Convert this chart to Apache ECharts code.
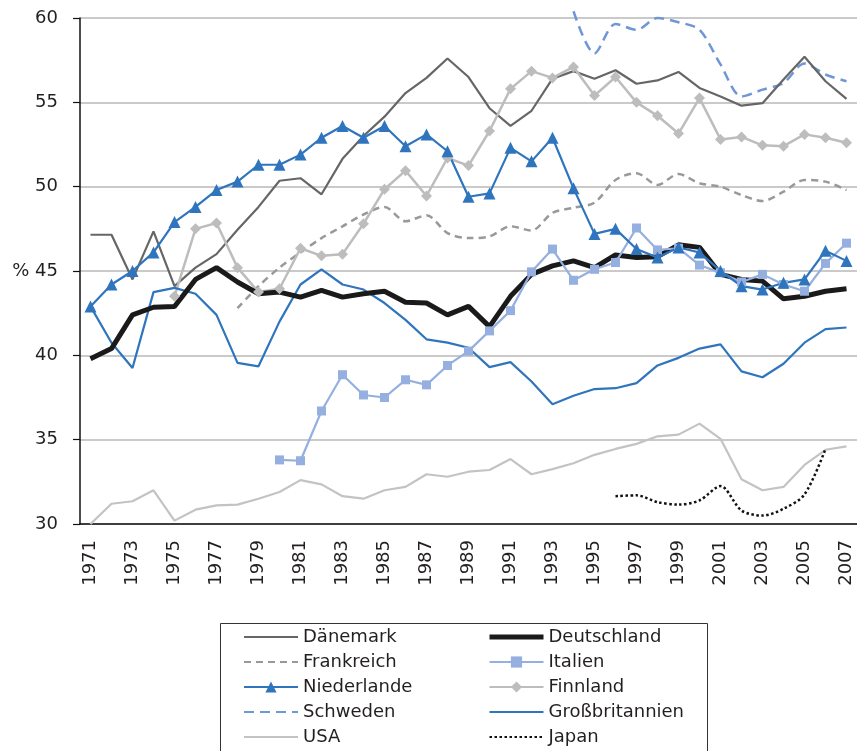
<!DOCTYPE html>
<html>
<head>
<meta charset="utf-8">
<script src="https://cdn.jsdelivr.net/npm/echarts@6/dist/echarts.min.js"></script>
<style>html,body{margin:0;padding:0;background:#fff}#c{width:857px;height:751px}</style>
</head>
<body>
<div id="c"></div>
<script>
const years = [];
for (let y = 1971; y <= 2007; y++) years.push(String(y));
const yTicks = [30, 35, 40, 45, 50, 55, 60];
const N = null;

const daenemark = [47.15, 47.15, 44.5, 47.35, 44.1, 45.2, 46.0, 47.45, 48.8, 50.35, 50.5, 49.55, 51.65, 53.0, 54.15, 55.55, 56.45, 57.6, 56.5, 54.65, 53.6, 54.5, 56.4, 56.85, 56.4, 56.9, 56.1, 56.3, 56.8, 55.85, 55.35, 54.8, 54.95, 56.35, 57.7, 56.25, 55.2];
const deutschland = [39.8, 40.4, 42.4, 42.85, 42.9, 44.5, 45.2, 44.35, 43.65, 43.75, 43.45, 43.85, 43.45, 43.65, 43.8, 43.15, 43.1, 42.4, 42.9, 41.7, 43.5, 44.8, 45.3, 45.6, 45.2, 45.95, 45.8, 45.85, 46.55, 46.4, 44.8, 44.5, 44.4, 43.35, 43.5, 43.8, 43.95];
const frankreich = [N, N, N, N, N, N, N, 42.8, 44.1, 45.2, 46.1, 46.95, 47.65, 48.35, 48.8, 47.95, 48.3, 47.25, 46.95, 47.05, 47.65, 47.4, 48.45, 48.75, 49.05, 50.4, 50.8, 50.1, 50.75, 50.2, 50.0, 49.5, 49.15, 49.7, 50.4, 50.3, 49.8];
const italien = [N, N, N, N, N, N, N, N, N, 33.8, 33.75, 36.7, 38.85, 37.65, 37.5, 38.55, 38.25, 39.4, 40.25, 41.45, 42.65, 44.95, 46.3, 44.45, 45.1, 45.5, 47.55, 46.25, 46.35, 45.35, 44.9, 44.35, 44.8, 44.2, 43.8, 45.45, 46.65];
const niederlande = [42.9, 44.2, 45.0, 46.1, 47.9, 48.8, 49.8, 50.3, 51.3, 51.3, 51.9, 52.9, 53.6, 52.9, 53.6, 52.4, 53.1, 52.1, 49.4, 49.6, 52.3, 51.5, 52.9, 49.9, 47.2, 47.5, 46.3, 45.8, 46.4, 46.1, 45.0, 44.1, 43.9, 44.3, 44.5, 46.2, 45.6];
const finnland = [N, N, N, N, 43.5, 47.5, 47.85, 45.2, 43.75, 43.95, 46.35, 45.9, 46.0, 47.8, 49.85, 50.95, 49.45, 51.7, 51.25, 53.3, 55.8, 56.85, 56.45, 57.1, 55.4, 56.5, 55.0, 54.2, 53.15, 55.25, 52.8, 52.95, 52.45, 52.4, 53.1, 52.9, 52.6];
const schweden = [N, N, N, N, N, N, N, N, N, N, N, N, N, N, N, N, N, N, N, N, N, N, N, 60.4, 57.9, 59.65, 59.3, 60.0, 59.75, 59.3, 57.25, 55.35, 55.75, 56.15, 57.3, 56.65, 56.25];
const grossbritannien = [42.9, 40.75, 39.25, 43.75, 44.0, 43.65, 42.4, 39.55, 39.35, 42.0, 44.2, 45.1, 44.2, 43.9, 43.1, 42.1, 40.95, 40.75, 40.45, 39.3, 39.6, 38.45, 37.1, 37.6, 38.0, 38.05, 38.35, 39.4, 39.85, 40.4, 40.65, 39.05, 38.7, 39.5, 40.75, 41.55, 41.65];
const usa = [30.0, 31.2, 31.35, 32.0, 30.2, 30.85, 31.1, 31.15, 31.5, 31.9, 32.6, 32.35, 31.65, 31.5, 32.0, 32.2, 32.95, 32.8, 33.1, 33.2, 33.85, 32.95, 33.25, 33.6, 34.1, 34.45, 34.75, 35.2, 35.3, 35.95, 35.05, 32.65, 32.0, 32.2, 33.5, 34.4, 34.6];
const japan = [N, N, N, N, N, N, N, N, N, N, N, N, N, N, N, N, N, N, N, N, N, N, N, N, N, 31.65, 31.7, 31.3, 31.15, 31.4, 32.25, 30.8, 30.5, 30.9, 31.75, 34.45, N];

const FONT = 'DejaVu Sans';
const TXT = '#231f20';

function s(name, data, color, width, type, symbol, symbolSize, smooth) {
  return {
    name, type: 'line', data,
    clip: false,
    smooth: smooth || false,
    symbol: symbol || 'none',
    symbolSize: symbolSize || 0,
    showSymbol: !!symbol,
    connectNulls: false,
    lineStyle: { color, width, type: type || 'solid' },
    itemStyle: { color },
    emphasis: { disabled: true },
    animation: false
  };
}

const noMark = { color: 'transparent', borderWidth: 0, borderColor: 'transparent' };
function li(name, extra) {
  return Object.assign({ name, itemStyle: noMark }, extra || {});
}
function lm(name) { return { name }; }

const legendText = { fontSize: 18, lineHeight: 18, color: TXT, fontFamily: FONT };

const chart = echarts.init(document.getElementById('c'), null, { renderer: 'canvas' });
chart.setOption({
  backgroundColor: '#fff',
  animation: false,
  textStyle: { fontFamily: FONT, color: TXT },
  grid: { left: 80, top: 18, bottom: 227, right: -2, containLabel: false },
  xAxis: {
    type: 'category', data: years, boundaryGap: true,
    axisLine: { lineStyle: { color: '#111', width: 1.5 } },
    axisTick: { interval: 0, length: 7, lineStyle: { color: '#111', width: 1.2 } },
    axisLabel: { interval: 1, rotate: 90, margin: 16, fontSize: 18, color: TXT, fontFamily: FONT },
    splitLine: { show: false }
  },
  yAxis: {
    type: 'value', min: yTicks[0], max: yTicks[yTicks.length - 1], interval: 5,
    axisLine: { show: true, lineStyle: { color: '#111', width: 1.5 } },
    axisTick: { show: true, length: 7, lineStyle: { color: '#111', width: 1.2 } },
    axisLabel: { margin: 22, fontSize: 18, color: TXT, fontFamily: FONT,
      formatter: v => (v === 45 ? '% ' + v : String(v)) },
    splitLine: { lineStyle: { color: '#b9b9b9', width: 1.5 } }
  },
  legend: [
    { data: [li('Dänemark'), li('Frankreich'), lm('Niederlande'), li('Schweden'), li('USA')],
      orient: 'vertical', left: 243, top: 628, itemWidth: 54, itemHeight: 14, itemGap: 7, padding: 0,
      textStyle: legendText },
    { data: [li('Deutschland', { lineStyle: { width: 5 } }), lm('Italien'), lm('Finnland'), li('Großbritannien'), li('Japan')],
      orient: 'vertical', left: 487, top: 628, itemWidth: 54, itemHeight: 14, itemGap: 7, padding: 0,
      textStyle: legendText }
  ],
  graphic: [{
    type: 'rect', left: 218, top: 621,
    shape: { width: 487, height: 200 },
    style: { fill: 'none', stroke: '#333', lineWidth: 1 }, silent: true
  }],
  series: [
    s('USA', usa, '#c3c3c3', 2.2),
    s('Japan', japan, '#111', 2.5, [2.5, 2.5], null, 0, 0.3),
    s('Frankreich', frankreich, '#999999', 2.5, [7, 5], null, 0, 0.3),
    s('Schweden', schweden, '#6f97d6', 2.5, [10, 6], null, 0, 0.3),
    s('Dänemark', daenemark, '#666666', 2.2),
    s('Finnland', finnland, '#bdbdbd', 2.5, 'solid', 'diamond', 11),
    s('Großbritannien', grossbritannien, '#2f75bd', 2.2),
    s('Deutschland', deutschland, '#1a1a1a', 5),
    s('Italien', italien, '#94afe0', 2.2, 'solid', 'rect', 9),
    s('Niederlande', niederlande, '#2f75bd', 2.2, 'solid', 'triangle', 12)
  ]
});
</script>
</body>
</html>
